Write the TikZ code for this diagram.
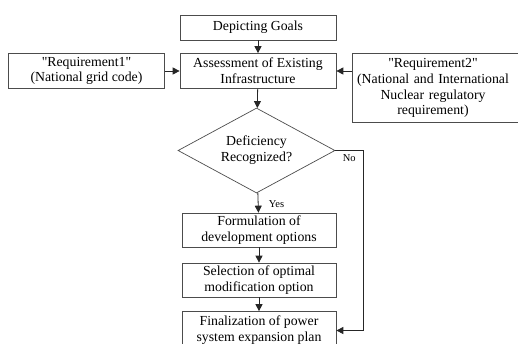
\documentclass[tikz,border=0pt]{standalone}
\usepackage{fontspec}
\setmainfont{Liberation Serif}
\usetikzlibrary{arrows.meta,shapes.geometric}
\tikzset{
	block/.style={draw=black!70, line width=0.7pt, align=center, inner sep=2pt, font=\fontsize{13.8}{15.8}\selectfont},
	decision/.style={block, diamond, aspect=1.85, inner sep=0pt, minimum width=157pt, minimum height=85pt},
	link/.style={draw=black!85, line width=0.8pt, -{Triangle[length=7pt,width=7pt]}},
	tag/.style={font=\fontsize{10.5}{12}\selectfont}
}
\begin{document}
\begin{tikzpicture}[x=1pt,y=-1pt]
\clip (0,0) rectangle (518,343);
\node[block, minimum width=156pt, minimum height=25pt] (goals) at (258,27.5) {Depicting Goals};
\node[block, minimum width=156pt, minimum height=35pt] (assess) at (258,71) {Assessment of Existing\\Infrastructure};
\node[block, minimum width=156pt, minimum height=35pt] (req1) at (86.5,71) {\textquotedbl Requirement1\textquotedbl\\(National grid code)};
\node[block, draw=none, text width=157pt, minimum height=68pt] (req2) at (433,88) {\textquotedbl Requirement2\textquotedbl\\(National and International\\Nuclear regulatory\\requirement)};
\draw[black!70, line width=0.7pt] (req2.north west) rectangle ([xshift=40pt]req2.south east);
\node[decision] (decide) at (256.5,150.5) {Deficiency\\Recognized?};
\node[block, minimum width=154pt, minimum height=34pt] (form) at (259,230) {Formulation of\\development options};
\node[block, minimum width=154pt, minimum height=34pt] (select) at (259,280) {Selection of optimal\\modification option};
\node[block, minimum width=154pt, minimum height=38pt] (final) at (259,330.5) {Finalization of power\\system expansion plan};
\coordinate (noturn) at (363,150.5);
% connectors
\draw[link] (goals) -- (assess);
\draw[link] (req1) -- (assess);
\draw[link] (req2.west |- assess.east) -- (assess.east);
\draw[link] (assess) -- (decide);
\draw[link] (decide) -- node[tag, pos=0.55, right=7pt] {Yes} (form);
\draw[link] (form) -- (select);
\draw[link] (select) -- (final);
\draw[link] (decide.east) -- node[tag, below] {No} (noturn) |- (final.east);
\end{tikzpicture}
\end{document}
